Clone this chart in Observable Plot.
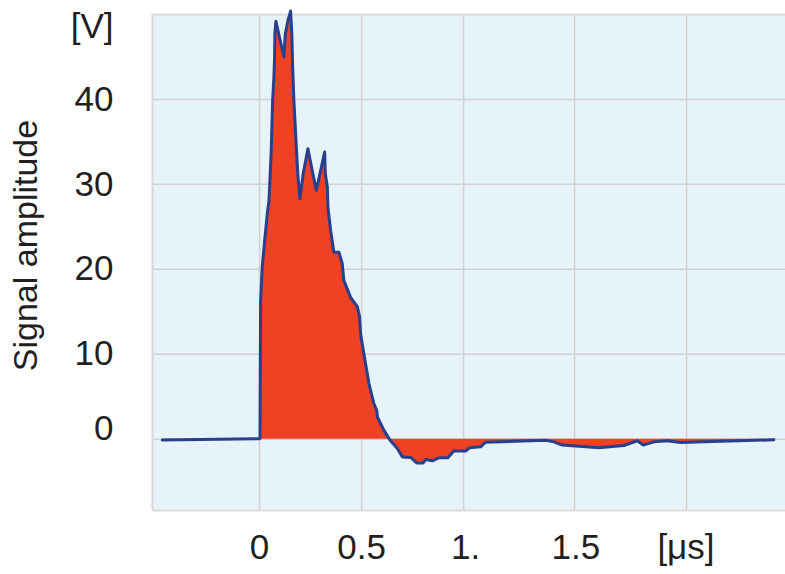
<!DOCTYPE html>
<html>
<head>
<meta charset="utf-8">
<script src="https://cdn.jsdelivr.net/npm/d3@7"></script>
<script src="https://cdn.jsdelivr.net/npm/@observablehq/plot@0.6"></script>
<style>
  html, body { margin: 0; padding: 0; background: #ffffff; }
  #chart { width: 785px; height: 574px; }
</style>
</head>
<body>
<div id="chart"></div>
<script>
// Time in µs, amplitude in V
const timeUs = [-0.477, 0.0, 0.002, 0.005, 0.013, 0.025, 0.038, 0.046, 0.05, 0.057, 0.064, 0.070, 0.073, 0.075, 0.080,
  0.119, 0.126, 0.139, 0.152, 0.158, 0.162, 0.168, 0.181, 0.188, 0.198, 0.214, 0.237, 0.258, 0.278, 0.299, 0.319,
  0.322, 0.332, 0.335, 0.348, 0.364, 0.389, 0.405, 0.413, 0.446, 0.479, 0.490, 0.495, 0.508, 0.536, 0.560, 0.574,
  0.578, 0.609, 0.639, 0.675, 0.700, 0.740, 0.770, 0.802, 0.814, 0.847, 0.879, 0.923, 0.952, 1.010, 1.031, 1.083,
  1.108, 1.328, 1.402, 1.443, 1.484, 1.663, 1.786, 1.851, 1.881, 1.933, 1.999, 2.064, 2.260, 2.521];
const amplitudeV = [-0.1, 0.05, 0.1, 16.3, 20.3, 23.4, 26.6, 28.1, 30.1, 34.0, 39.9, 42.6, 44.6, 47.8, 49.2,
  45.0, 47.7, 49.3, 50.4, 47.7, 43.8, 39.9, 34.0, 30.9, 28.3, 31.3, 34.2, 31.6, 29.3, 31.6, 33.8,
  31.3, 29.7, 27.3, 24.6, 22.0, 22.0, 20.7, 18.7, 16.7, 15.6, 14.4, 12.4, 10.5, 6.55, 4.2, 3.4,
  2.6, 1.06, -0.1, -1.1, -2.1, -2.15, -2.8, -2.8, -2.4, -2.55, -2.2, -2.2, -1.4, -1.4, -1.0, -0.9,
  -0.35, -0.2, -0.12, -0.32, -0.7, -1.0, -0.75, -0.2, -0.7, -0.32, -0.2, -0.4, -0.24, -0.08];

const xDomain = [-0.525, 2.578];
const yDomain = [-8.4, 50];

const xGridValues = [0, 0.5, 1.0, 1.544, 2.093];
const xTickLabels = ["0", "0.5", "1.", "1.5", "[\u03bcs]"];
const xTickPos = [0, 0.5, 1.01, 1.55, 2.09];

const yGridValues = [0, 10, 20, 30, 40];
const yTickLabels = ["0", "10", "20", "30", "40", "[V]"];
const yTickPos = [1.2, 10, 20, 30, 40, 48.5];

const yTitle = "Signal amplitude";
const yTitlePos = 22.8;

const signal = timeUs.map((t, i) => ({t, v: amplitudeV[i]}));

const textColor = "#231f20";
const fontSize = 35;

const chart = Plot.plot({
  width: 785,
  height: 574,
  marginLeft: 152,
  marginRight: 0,
  marginTop: 14,
  marginBottom: 64,
  x: {domain: xDomain, axis: null},
  y: {domain: yDomain, axis: null},
  style: {fontFamily: "'Liberation Sans', Arial, sans-serif", background: "#ffffff", overflow: "visible"},
  marks: [
    Plot.frame({fill: "#e6f3f8", stroke: null}),
    Plot.ruleX(xGridValues, {stroke: "#d2d2d2", strokeWidth: 1.5}),
    Plot.ruleY(yGridValues, {stroke: "#d2d2d2", strokeWidth: 1.5}),
    Plot.ruleX([xDomain[0]], {stroke: "#d8d8d8", strokeWidth: 2}),
    Plot.ruleY(yDomain, {stroke: "#dcdcdc", strokeWidth: 2}),
    Plot.areaY(signal, {x: "t", y1: 0, y2: "v", fill: "#ef4123"}),
    Plot.line(signal, {x: "t", y: "v", stroke: "#283f8e", strokeWidth: 3, strokeLinejoin: "round"}),
    Plot.text(xTickLabels, {
      x: (d, i) => xTickPos[i], text: d => d, frameAnchor: "bottom", lineAnchor: "middle",
      dy: 37, fontSize, fill: textColor
    }),
    Plot.text(yTickLabels, {
      y: (d, i) => yTickPos[i], text: d => d, frameAnchor: "left", textAnchor: "end", lineAnchor: "middle",
      dx: -39, fontSize, fill: textColor
    }),
    Plot.text([yTitle], {
      y: () => yTitlePos, text: d => d, frameAnchor: "left", textAnchor: "middle", rotate: -90, lineAnchor: "middle",
      dx: -126, fontSize: 34, fill: textColor
    })
  ]
});

document.getElementById("chart").appendChild(chart);
</script>
</body>
</html>
